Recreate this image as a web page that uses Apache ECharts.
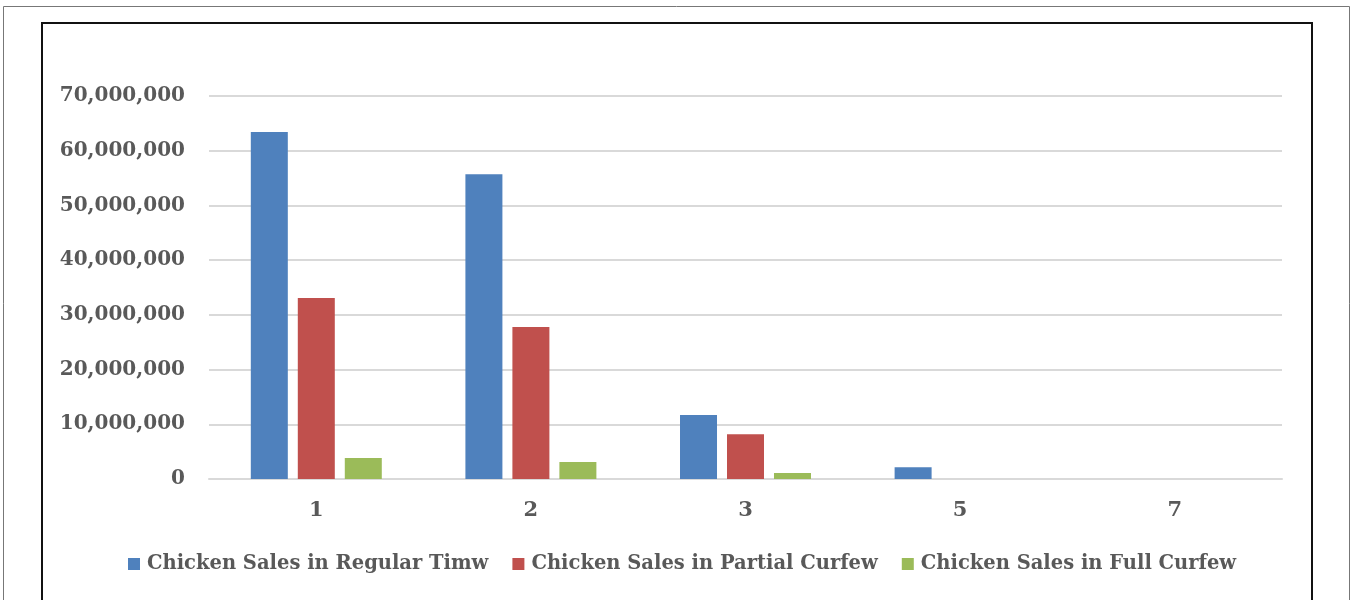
<!DOCTYPE html>
<html><head><meta charset="utf-8">
<script src="https://cdn.jsdelivr.net/npm/echarts@6/dist/echarts.min.js"></script>
<style>html,body{margin:0;padding:0;background:#fff}#c{width:1352px;height:600px}</style>
</head><body><div id="c"></div>
<script>
const categories = ['1', '2', '3', '5', '7'];
const seriesNames = ['Chicken Sales in Regular Timw', 'Chicken Sales in Partial Curfew', 'Chicken Sales in Full Curfew'];
const regular = [63400000, 55700000, 11700000, 2150000, 0];
const partial = [33100000, 27800000, 8200000, 0, 0];
const full = [3850000, 3100000, 1100000, 0, 0];
const colors = ['#4f81bd', '#c0504d', '#9bbb59'];

const font = 'DejaVu Serif';
const chart = echarts.init(document.getElementById('c'), null, {renderer: 'canvas'});
const mk = (name, data, i) => ({
  name, type: 'bar', data, barWidth: 37, barGap: '27%',
  itemStyle: {color: colors[i]}, animation: false
});
chart.setOption({
  animation: false,
  graphic: [
    {type: 'rect', shape: {x: 3.5, y: 6.5, width: 1346, height: 620}, style: {fill: 'none', stroke: '#777', lineWidth: 1}},
    {type: 'rect', shape: {x: 42, y: 23, width: 1270, height: 600}, style: {fill: 'none', stroke: '#111', lineWidth: 2}}
  ],
  grid: {left: 209, right: 70, top: 96, bottom: 121, containLabel: false},
  legend: {
    bottom: 21, left: 123, itemWidth: 12, itemHeight: 12, itemGap: 24,
    icon: 'rect',
    textStyle: {fontFamily: font, fontWeight: 'bold', fontSize: 19.5, color: '#595959', padding: [0, 0, 0, 2]},
    data: seriesNames
  },
  xAxis: {
    type: 'category', data: categories,
    axisLine: {lineStyle: {color: '#d9d9d9', width: 2}},
    axisTick: {show: false},
    axisLabel: {fontFamily: font, fontWeight: 'bold', fontSize: 21, color: '#595959', margin: 21}
  },
  yAxis: {
    type: 'value', min: 0, max: 70000000, interval: 10000000,
    axisLine: {show: false}, axisTick: {show: false},
    splitLine: {lineStyle: {color: '#d9d9d9', width: 2}},
    axisLabel: {fontFamily: font, fontWeight: 'bold', fontSize: 20, color: '#595959', margin: 24,
      formatter: v => v.toLocaleString('en-US')}
  },
  series: [mk(seriesNames[0], regular, 0), mk(seriesNames[1], partial, 1), mk(seriesNames[2], full, 2)]
});
</script></body></html>
